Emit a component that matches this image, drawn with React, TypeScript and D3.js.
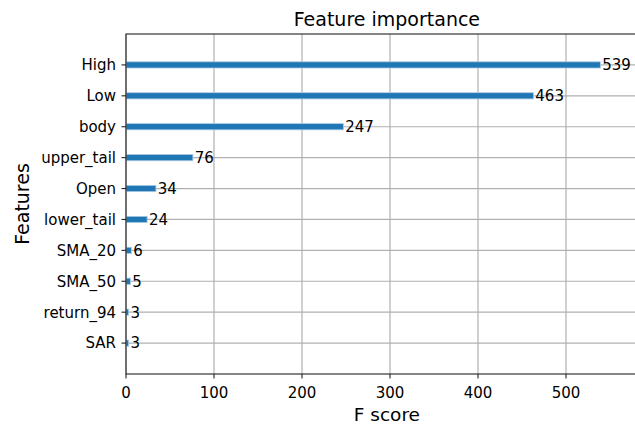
import React from "react";
import * as d3 from "d3";

const features = ["High", "Low", "body", "upper_tail", "Open", "lower_tail", "SMA_20", "SMA_50", "return_94", "SAR"];
const scores = [539, 463, 247, 76, 34, 24, 6, 5, 3, 3];
const xTicks = [0, 100, 200, 300, 400, 500];

const W = 635;
const H = 425;
const left = 126;
const top = 34;
const bottom = 374;
const xMax = 539 * 1.1;
const right = left + xMax * 0.88;
const FONT = "DejaVu Sans, sans-serif";

export default function App() {
  const x = d3.scaleLinear().domain([0, xMax]).range([left, right]);
  const y = d3.scaleLinear().domain([-1, features.length]).range([top, bottom]);
  const barH = y(0.1) - y(-0.1);
  return (
    <svg width={W} height={H} style={{ position: "absolute", left: 0, top: 0, background: "#fff" }} fontFamily={FONT}>
      <rect x={0} y={0} width={W} height={H} fill="#fff" />
      {/* grid */}
      {xTicks.map((t) => (
        <line key={"gx" + t} x1={x(t)} x2={x(t)} y1={top} y2={bottom} stroke="#b0b0b0" strokeWidth={1.2} />
      ))}
      {features.map((f, i) => (
        <line key={"gy" + f} x1={left} x2={right} y1={y(i)} y2={y(i)} stroke="#b0b0b0" strokeWidth={1.2} />
      ))}
      {/* bars */}
      {features.map((f, i) => (
        <rect key={"b" + f} x={x(0)} y={y(i) - barH / 2} width={x(scores[i]) - x(0)} height={barH} fill="#1f77b4" stroke="#a9c9e3" strokeWidth={0.8} />
      ))}
      {/* value labels */}
      {features.map((f, i) => (
        <text key={"v" + f} x={x(scores[i] + 1) + 1} y={y(i)} dy="0.36em" fontSize={15} fill="#000">
          {scores[i]}
        </text>
      ))}
      {/* spines */}
      <rect x={left} y={top} width={right - left} height={bottom - top} fill="none" stroke="#222" strokeWidth={1.1} />
      {/* x ticks */}
      {xTicks.map((t) => (
        <g key={"xt" + t}>
          <line x1={x(t)} x2={x(t)} y1={bottom} y2={bottom + 4.5} stroke="#222" strokeWidth={1.1} />
          <text x={x(t)} y={398} textAnchor="middle" fontSize={15} fill="#000">{t}</text>
        </g>
      ))}
      {/* y ticks */}
      {features.map((f, i) => (
        <g key={"yt" + f}>
          <line x1={left - 4.5} x2={left} y1={y(i)} y2={y(i)} stroke="#222" strokeWidth={1.1} />
          <text x={left - 10} y={y(i)} dy="0.36em" textAnchor="end" fontSize={15} fill="#000">{f}</text>
        </g>
      ))}
      <text x={(left + right) / 2} y={26} textAnchor="middle" fontSize={19} fill="#000">Feature importance</text>
      <text x={(left + right) / 2} y={421} textAnchor="middle" fontSize={18.5} fill="#000">F score</text>
      <text transform={`translate(29, ${(top + bottom) / 2}) rotate(-90)`} textAnchor="middle" fontSize={19} fill="#000">Features</text>
    </svg>
  );
}
